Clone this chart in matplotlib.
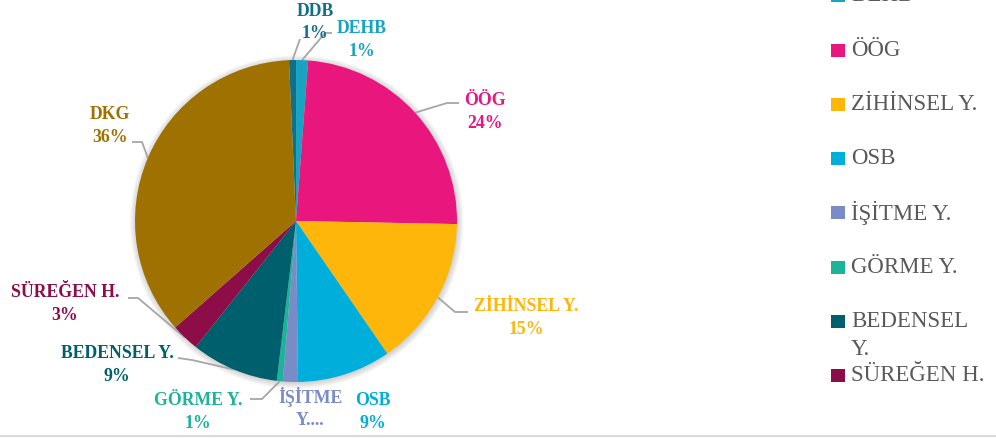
import matplotlib
matplotlib.use("Agg")
import matplotlib.pyplot as plt
from matplotlib.patches import Circle, Rectangle
import numpy as np

# ---- data ----
categories = ["DDB", "DEHB", "ÖÖG", "ZİHİNSEL Y.", "OSB", "İŞİTME Y.",
              "GÖRME Y.", "BEDENSEL Y.", "SÜREĞEN H.", "DKG"]
values = [0.7, 1.2, 24.1, 15.1, 9.4, 1.5, 0.6, 8.8, 2.8, 35.8]
colors = ["#10708A", "#17A3C2", "#E9177D", "#FFB60B", "#00AEDC", "#7A8CC8",
          "#1DB39B", "#005F6C", "#8C0D47", "#9E7100"]
legend_labels = ["DEHB", "ÖÖG", "ZİHİNSEL Y.", "OSB", "İŞİTME Y.",
                 "GÖRME Y.", "BEDENSEL\nY.", "SÜREĞEN H."]

W, H = 996, 438
CX, CY, R = 296, 221, 161

fig = plt.figure(figsize=(W / 100, H / 100), dpi=100)
ax = fig.add_axes([0, 0, 1, 1])

def P(px, py):
    return ((px - CX) / R, (CY - py) / R)

# soft shadow
for k in range(10):
    ax.add_patch(Circle((0.004, -0.006), 1.0 + 0.004 * k, color="#7f7f7f",
                        alpha=0.035, lw=0, zorder=0))

wedges, _ = ax.pie(values, colors=colors, startangle=92.5, counterclock=False,
                   radius=1, center=(0, 0), wedgeprops=dict(linewidth=0))
for w in wedges:
    w.set_zorder(2)

ax.set_aspect("auto")
ax.set_xlim(-CX / R, (W - CX) / R)
ax.set_ylim((CY - H) / R, CY / R)
ax.axis("off")

# label layout (pixel positions of text centers and leader elbows)
label_pos = {
    "DDB": (315, 22.5), "DEHB": (362, 40), "ÖÖG": (485, 112),
    "ZİHİNSEL Y.": (526, 318), "OSB": (373, 412), "İŞİTME Y.": (310, 408),
    "GÖRME Y.": (198, 412), "BEDENSEL Y.": (117, 365),
    "SÜREĞEN H.": (65, 304), "DKG": (110, 126),
}
leader_pts = {
    "DDB": [(300, 39)],
    "DEHB": [(325, 33), (332, 33)],
    "ÖÖG": [(447, 103), (459, 103)],
    "ZİHİNSEL Y.": [(455, 312), (468, 312)],
    "GÖRME Y.": [(262, 399), (250, 399)],
    "BEDENSEL Y.": [(192, 360), (178, 358)],
    "SÜREĞEN H.": [(138, 298), (128, 298)],
    "DKG": [(142, 142), (132, 142)],
}

for w, cat, val, col in zip(wedges, categories, values, colors):
    mid = np.deg2rad((w.theta1 + w.theta2) / 2)
    ex, ey = np.cos(mid), np.sin(mid)
    if cat in leader_pts:
        pts = [(ex, ey)] + [P(*p) for p in leader_pts[cat]]
        xs, ys = zip(*pts)
        ax.plot(xs, ys, color="#A6A6A6", lw=1.3, zorder=1,
                solid_capstyle="butt")
    if cat == "İŞİTME Y.":
        txt = "İŞİTME\nY...."
    else:
        txt = f"{cat}\n{round(val)}%"
    tx, ty = P(*label_pos[cat])
    ax.text(tx, ty, txt, ha="center", va="center", multialignment="center",
            color=col, fontsize=12.8, fontweight="bold",
            family="Liberation Serif", linespacing=1.42, zorder=3)

# legend (scrolled, partially clipped at the top as in the original)
y0, dy = -4.3, 54.3
for i, lab in enumerate(legend_labels):
    yc = y0 + dy * i
    col = colors[categories.index(lab.replace("\n", " "))]
    fig.patches.append(Rectangle((831 / W, 1 - (yc + 6.5) / H), 14 / W, 13 / H,
                                 transform=fig.transFigure, color=col, lw=0))
    lines = lab.split("\n")
    for j, ln in enumerate(lines):
        fig.text(851 / W, 1 - (yc + 28 * j) / H, ln, ha="left", va="center",
                 color="#595959", fontsize=16.5, family="Liberation Serif")

# bottom frame line
ax.plot([0, 1], [1 - 436 / H] * 2, transform=ax.transAxes,
        color="#D9D9D9", lw=1.5, clip_on=False)

fig.savefig("out.png", dpi=100)
